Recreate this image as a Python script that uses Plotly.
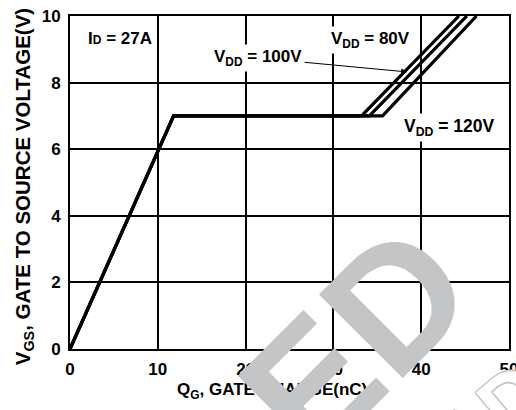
import plotly.graph_objects as go

# Gate charge (nC) vs gate-source voltage (V) for three drain voltages
q_80 = [0, 11.8, 33.2, 44.3]
v_80 = [0, 7.0, 7.0, 10.0]
q_100 = [0, 11.8, 34.1, 45.2]
v_100 = [0, 7.0, 7.0, 10.0]
q_120 = [0, 11.8, 35.6, 46.3]
v_120 = [0, 7.0, 7.0, 10.0]

x_ticks = [0, 10, 20, 30, 40, 50]
y_ticks = [0, 2, 4, 6, 8, 10]

FONT = "Liberation Sans, Arial, sans-serif"
WM = "#c4c5c7"

# plot-area geometry in page pixels (used only to place the watermark by pixel shift)
L, R, T, B = 70, 509, 16, 349
W, H = 516, 410


def px_shift(x_data, y_data, tx, ty):
    px = L + (x_data - 0) / 50 * (R - L)
    py = B - (y_data - 0) / 10 * (B - T)
    return tx - px, py - ty


fig = go.Figure()
for q, v, name in [(q_80, v_80, "80V"), (q_100, v_100, "100V"), (q_120, v_120, "120V")]:
    fig.add_trace(go.Scatter(x=q, y=v, mode="lines", name=name,
                             line=dict(color="black", width=3.2),
                             showlegend=False, hoverinfo="skip"))

axis_common = dict(showgrid=True, gridcolor="black", gridwidth=1.6,
                   showline=True, linecolor="black", linewidth=2, mirror=True,
                   zeroline=False, ticks="", ticklabeloverflow="allow", automargin=False,
                   tickfont=dict(family=FONT, size=17, color="black", weight="bold"))

fig.update_xaxes(range=[0, 50], tickvals=x_ticks, ticklabelstandoff=4, **axis_common)
fig.update_yaxes(range=[0, 10], tickvals=y_ticks, ticklabelstandoff=4, **axis_common)

lab = dict(family=FONT, size=17, color="black", weight="bold")
sx1, sy1 = px_shift(25, 5, 227, 469)
sx2, sy2 = px_shift(25, 5, 527, 385)
outline = ", ".join("%spx %spx 0 %s" % (a, b, WM) for a, b in
                    [(-1.2, -1.2), (1.2, -1.2), (-1.2, 1.2), (1.2, 1.2), (0, 1.5), (0, -1.5), (1.5, 0), (-1.5, 0)])
ann = [
    dict(x=5.75, y=9.32, xref="x", yref="y", text="I<span style='font-size:12px'>D</span> = 27A",
         showarrow=False, font=lab, bgcolor="white", borderpad=2),
    dict(x=34.2, y=9.28, xref="x", yref="y", text="V<sub>DD</sub> = 80V",
         showarrow=False, font=lab, bgcolor="white", borderpad=2),
    dict(x=38.4, y=8.32, xref="x", yref="y", ax=-149, ay=-14, text="V<sub>DD</sub> = 100V",
         showarrow=True, arrowhead=2, arrowsize=1.2, arrowwidth=1, arrowcolor="black",
         font=lab, bgcolor="white", borderpad=2),
    dict(x=43.2, y=6.65, xref="x", yref="y", text="V<sub>DD</sub> = 120V",
         showarrow=False, font=dict(family=FONT, size=17.5, color="black", weight="bold"),
         bgcolor="white", borderpad=2),
    # axis titles
    dict(x=-0.106, y=0.49, xref="paper", yref="paper", xanchor="center", yanchor="middle",
         text="V<sub>GS</sub>, GATE TO SOURCE VOLTAGE(V)",
         textangle=-90, showarrow=False, font=dict(family=FONT, size=20.5, color="black", weight="bold")),
    dict(x=0.459, y=-0.125, xref="paper", yref="paper", xanchor="center", yanchor="middle",
         text="Q<sub>G</sub>, GATE CHARGE(nC)",
         showarrow=False, font=dict(family=FONT, size=17, color="black", weight="bold")),
    # watermark
    dict(x=25, y=5, xref="x", yref="y", xshift=sx1, yshift=sy1, text="ENDED", textangle=-45,
         xanchor="center", yanchor="middle",
         showarrow=False, font=dict(family=FONT, size=172, color=WM, weight="bold")),
    dict(x=25, y=5, xref="x", yref="y", xshift=sx2, yshift=sy2, text="NEW DESIGN", textangle=-40,
         xanchor="center", yanchor="middle",
         showarrow=False, font=dict(family=FONT, size=80, color="white",
                                    weight="bold", shadow=outline)),
]

fig.update_layout(width=W, height=H, margin=dict(l=L, r=W - R, t=T, b=H - B),
                  paper_bgcolor="white", plot_bgcolor="white", annotations=ann)

fig.write_html("out.html", config={"displayModeBar": False},
               post_script="document.body.style.margin='0px';")
